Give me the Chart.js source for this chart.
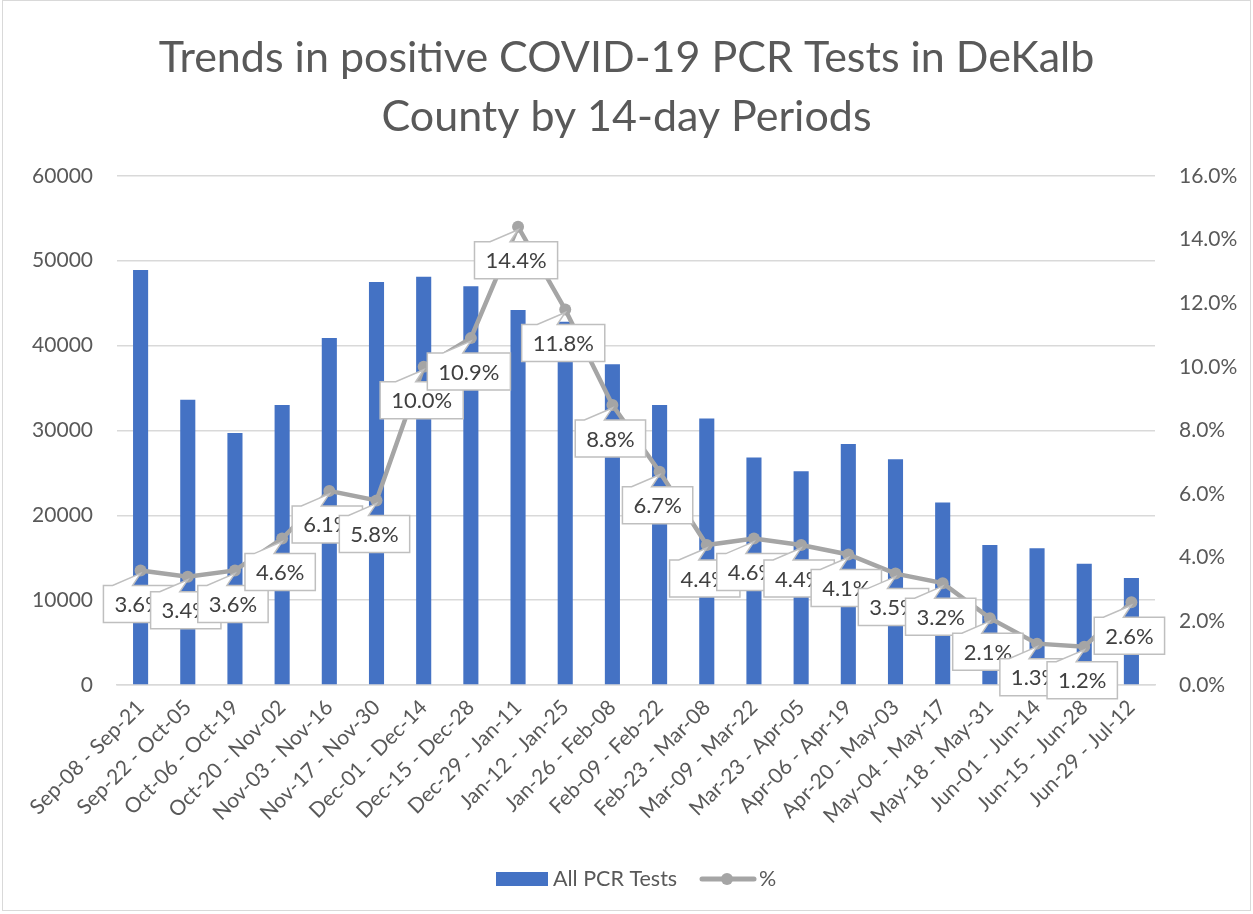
<!DOCTYPE html>
<html>
<head>
<meta charset="utf-8">
<script src="https://cdn.jsdelivr.net/npm/chart.js@4.4.1/dist/chart.umd.min.js"></script>
<style>
  html, body { margin: 0; padding: 0; background: #fff; }
  canvas { display: block; }
</style>
</head>
<body>
<canvas id="chart" width="1253" height="914"></canvas>
<script>
const periods = [
  'Sep-08 - Sep-21', 'Sep-22 - Oct-05', 'Oct-06 - Oct-19', 'Oct-20 - Nov-02',
  'Nov-03 - Nov-16', 'Nov-17 - Nov-30', 'Dec-01 - Dec-14', 'Dec-15 - Dec-28',
  'Dec-29 - Jan-11', 'Jan-12 - Jan-25', 'Jan-26 - Feb-08', 'Feb-09 - Feb-22',
  'Feb-23 - Mar-08', 'Mar-09 - Mar-22', 'Mar-23 - Apr-05', 'Apr-06 - Apr-19',
  'Apr-20 - May-03', 'May-04 - May-17', 'May-18 - May-31', 'Jun-01 - Jun-14',
  'Jun-15 - Jun-28', 'Jun-29 - Jul-12'
]
const allTests = [
  48900, 33600, 29700, 33000, 40900, 47500, 48100, 47000, 44200, 42800, 37800,
  33000, 31400, 26800, 25200, 28400, 26600, 21500, 16500, 16100, 14300, 12600
]
const pctPositive = [
  3.6, 3.4, 3.6, 4.6, 6.1, 5.8, 10.0, 10.9, 14.4, 11.8, 8.8,
  6.7, 4.4, 4.6, 4.4, 4.1, 3.5, 3.2, 2.1, 1.3, 1.2, 2.6
]

const FONT  = 'Lato, "Open Sans", sans-serif'
const GREY  = '#595959'
const BLUE  = '#4472C4'
const LINE  = '#A5A5A5'
const GRID  = '#D9D9D9'

// plot area in the reference: x 117..1155, y 176..685
const PLOT = { left: 117, right: 1155, top: 176, bottom: 685 }
const LEGEND_SPACE = 80

const frame = {
  id: 'frame',
  beforeDraw(chart) {
    const ctx = chart.ctx
    ctx.save()
    ctx.fillStyle = '#fff'
    ctx.fillRect(0, 0, chart.width, chart.height)
    ctx.strokeStyle = GRID
    ctx.lineWidth = 1
    ctx.strokeRect(2.5, 0.5, chart.width - 5, chart.height - 4)
    ctx.restore()
  }
}

// Excel style callout labels on the % line
const callouts = {
  id: 'callouts',
  afterDatasetsDraw(chart) {
    const ctx  = chart.ctx
    const meta = chart.getDatasetMeta(0)
    ctx.save()
    ctx.font = '22px ' + FONT
    ctx.textAlign = 'center'
    ctx.textBaseline = 'middle'
    meta.data.forEach((pt, i) => {
      const text = pctPositive[i].toFixed(1) + '%'
      const w  = ctx.measureText(text).width + 22
      const h  = 37
      const cx = pt.x - 2
      const top = pt.y + 15
      const left = cx - w / 2
      ctx.beginPath()
      ctx.moveTo(left, top)
      ctx.lineTo(cx - 26, top)
      ctx.lineTo(pt.x, pt.y + 3)
      ctx.lineTo(cx - 6, top)
      ctx.lineTo(left + w, top)
      ctx.lineTo(left + w, top + h)
      ctx.lineTo(left, top + h)
      ctx.closePath()
      ctx.fillStyle = '#fff'
      ctx.fill()
      ctx.strokeStyle = '#BFBFBF'
      ctx.lineWidth = 1.5
      ctx.stroke()
      ctx.fillStyle = '#404040'
      ctx.fillText(text, cx, top + h / 2 + 1)
    })
    ctx.restore()
  }
}

const legend = {
  id: 'customLegend',
  afterDraw(chart) {
    const ctx = chart.ctx
    const y = 879
    ctx.save()
    ctx.font = '21.5px ' + FONT
    ctx.textBaseline = 'middle'
    ctx.fillStyle = BLUE
    ctx.fillRect(496, y - 7, 52, 14)
    ctx.fillStyle = GREY
    ctx.fillText('All PCR Tests', 553, y)
    ctx.strokeStyle = LINE
    ctx.lineWidth = 5
    ctx.lineCap = 'round'
    ctx.beginPath()
    ctx.moveTo(702, y)
    ctx.lineTo(754, y)
    ctx.stroke()
    ctx.fillStyle = LINE
    ctx.beginPath()
    ctx.arc(727, y, 6, 0, Math.PI * 2)
    ctx.fill()
    ctx.fillStyle = GREY
    ctx.fillText('%', 759, y)
    ctx.restore()
  }
}

new Chart(document.getElementById('chart'), {
  data: {
    labels: periods,
    datasets: [
      {
        type: 'line',
        label: '%',
        data: pctPositive,
        yAxisID: 'y1',
        borderColor: LINE,
        backgroundColor: LINE,
        borderWidth: 4.5,
        pointRadius: 6,
        pointBackgroundColor: LINE,
        pointBorderWidth: 0,
        tension: 0,
        order: 0,
      },
      {
        type: 'bar',
        label: 'All PCR Tests',
        data: allTests,
        yAxisID: 'y',
        backgroundColor: BLUE,
        categoryPercentage: 1,
        barPercentage: 0.32,
        order: 1,
      }
    ]
  },
  options: {
    responsive: false,
    animation: false,
    layout: { padding: { left: 0, right: 0, top: 0, bottom: LEGEND_SPACE } },
    scales: {
      x: {
        grid: { display: false, drawTicks: false },
        border: { color: GRID, width: 1.5 },
        ticks: {
          color: GREY, font: { family: FONT, size: 21 },
          maxRotation: 45, minRotation: 45, autoSkip: false, padding: 10
        },
        afterFit: s => { s.height = 914 - LEGEND_SPACE - PLOT.bottom }
      },
      y: {
        position: 'left',
        min: 0, max: 60000,
        grid: { color: GRID, lineWidth: 1.5, drawTicks: false },
        border: { display: false },
        ticks: {
          stepSize: 10000, color: GREY, font: { family: FONT, size: 21 }, padding: 24,
          callback: v => String(v)
        },
        afterFit: s => { s.width = PLOT.left }
      },
      y1: {
        position: 'right',
        min: 0, max: 16,
        grid: { display: false, drawTicks: false },
        border: { display: false },
        ticks: {
          stepSize: 2, color: GREY, font: { family: FONT, size: 21 }, padding: 24,
          callback: v => v.toFixed(1) + '%'
        },
        afterFit: s => { s.width = 1253 - PLOT.right }
      }
    },
    plugins: {
      legend: { display: false },
      tooltip: { enabled: false },
      title: {
        display: true,
        text: ['Trends in positive COVID-19 PCR Tests in DeKalb', 'County by 14-day Periods'],
        color: GREY,
        font: { family: FONT, size: 43, weight: 'normal', lineHeight: 1.37 },
        padding: { top: 28.5, bottom: 29.5 }
      }
    }
  },
  plugins: [frame, callouts, legend]
})
</script>
</body>
</html>
